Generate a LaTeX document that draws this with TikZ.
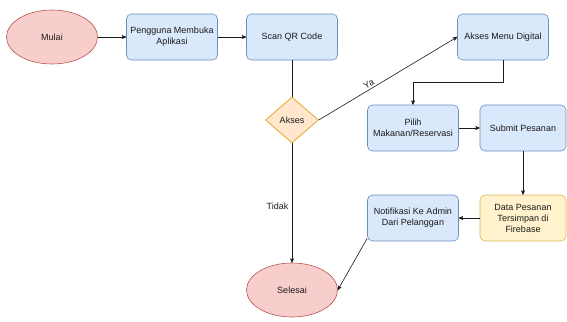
\documentclass[tikz,border=0pt]{standalone}
\usepackage{fontspec}
\setmainfont{Liberation Sans}
\usetikzlibrary{arrows,shapes.geometric,positioning}

\definecolor{redfill}{HTML}{F8CECC}
\definecolor{redline}{HTML}{B85450}
\definecolor{bluefill}{HTML}{DAE8FC}
\definecolor{blueline}{HTML}{6C8EBF}
\definecolor{orgfill}{HTML}{FFE6CC}
\definecolor{orgline}{HTML}{D79B00}
\definecolor{yelfill}{HTML}{FFF2CC}
\definecolor{yelline}{HTML}{D6B656}
\definecolor{edgecol}{HTML}{1A1A1A}

\begin{document}
\begin{tikzpicture}[x=1pt,y=1pt,>=stealth',semithick,
        node distance=120pt,
        every node/.style={font=\fontsize{9}{11}\selectfont,text=edgecol},
        terminal/.style={ellipse,draw=redline,fill=redfill,minimum width=91pt,
          minimum height=54pt,inner sep=0pt},
        proses/.style={rectangle,rounded corners=5pt,draw=blueline,fill=bluefill,
          minimum width=91pt,minimum height=46pt,align=center,inner sep=1pt},
        simpan/.style={proses,draw=yelline,fill=yelfill},
        keputusan/.style={diamond,draw=orgline,fill=orgfill,minimum width=53pt,
          minimum height=46pt,inner sep=0pt},
        alur/.style={draw=edgecol,->}]
      \useasboundingbox (0,0) rectangle (567,-321);
      \node[terminal] (mulai) at (52,-37) {Mulai};
      \node[proses] (buka) [right of=mulai] {Pengguna Membuka\\Aplikasi};
      \node[proses] (scan) [right of=buka] {Scan QR Code};
      \node[keputusan] (akses) at (292,-120) {Akses};
      \node[proses] (menu) at (503,-37) {Akses Menu Digital};
      \node[proses] (pilih) at (413,-128) {Pilih\\Makanan/Reservasi};
      \node[proses,minimum width=86pt] (submit) at (523,-128) {Submit Pesanan};
      \node[simpan,minimum width=86pt] (data) at (523,-218) {Data Pesanan\\Tersimpan di\\Firebase};
      \node[proses] (notif) at (413,-218) {Notifikasi Ke Admin\\Dari Pelanggan};
      \node[terminal] (selesai) at (292,-290) {Selesai};
      \draw[alur] (mulai) -- (buka);
      \draw[alur] (buka) -- (scan);
      \draw[draw=edgecol] (scan) -- (akses);
      \draw[alur] (akses.east) -- node [pos=0.38,above,sloped,inner sep=1.5pt] {Ya} (menu.west);
      \draw[alur] (akses) -- node [pos=0.53,left] {Tidak} (selesai);
      \draw[alur] (menu.south) -- ++(0,-22) -| (pilih.north);
      \draw[alur] (pilih) -- (submit);
      \draw[alur] (submit) -- (data);
      \draw[alur] (data) -- (notif);
      \draw[alur] ([yshift=3pt]notif.south west) -- (selesai.east);
    \end{tikzpicture}
\end{document}
